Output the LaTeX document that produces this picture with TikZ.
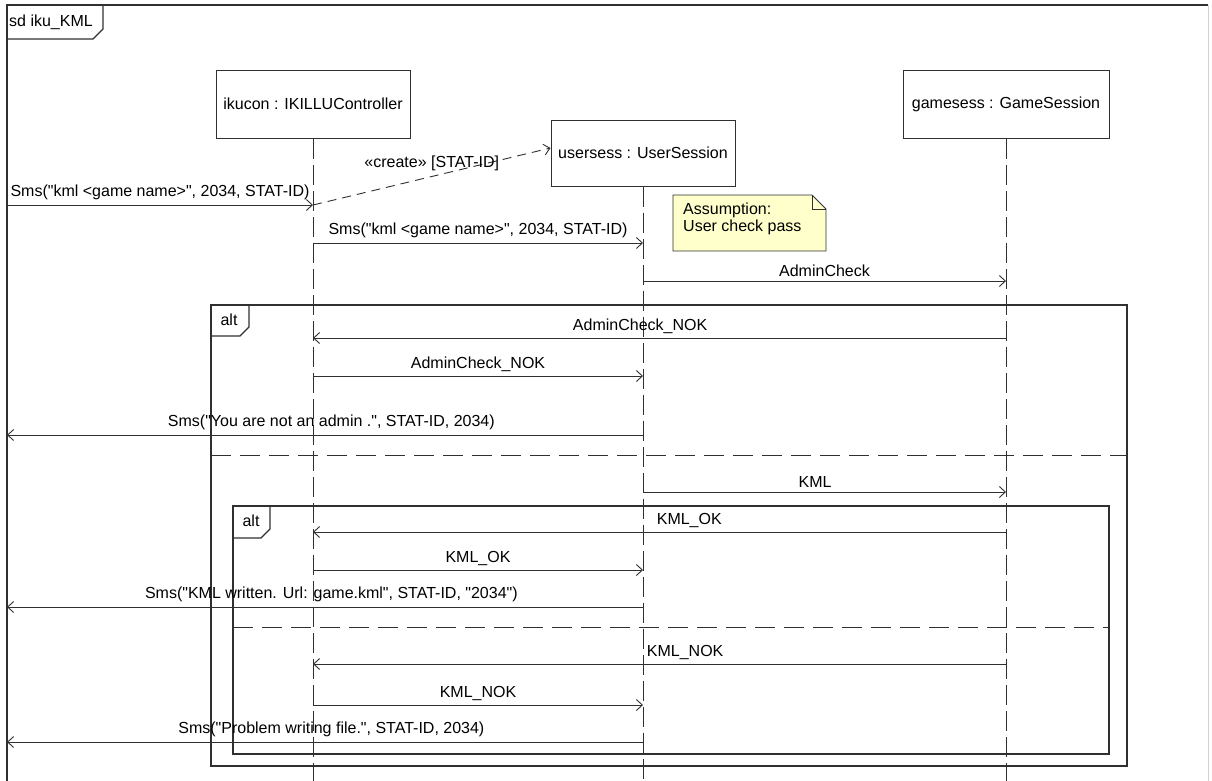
\documentclass[tikz,border=0pt]{standalone}
\usepackage{fontspec}
\setmainfont{Liberation Sans}
\usetikzlibrary{arrows.meta,positioning,calc}
\definecolor{linegray}{HTML}{303030}
\definecolor{noteyellow}{HTML}{FFFFCC}
\newcommand{\qq}{\textquotedbl}
\tikzset{
  lifebox/.style={draw=linegray,line width=1pt,fill=white,inner sep=0pt},
  lifeline/.style={draw=linegray,line width=0.9pt,dash pattern=on 20pt off 6pt},
  frm/.style={draw=linegray,line width=1.1pt},
  sep/.style={draw=linegray,line width=1pt,dash pattern=on 20pt off 9pt},
  msg/.style={draw=linegray,line width=0.9pt,->},
  createmsg/.style={msg,dash pattern=on 9pt off 6pt},
}

\begin{document}
\begin{tikzpicture}[x=1pt,y=-1pt,font={\fontsize{16pt}{18pt}\selectfont},>={Straight Barb[length=6pt,width=11pt]}]
\useasboundingbox (0,0) rectangle (1212,780);
\coordinate (gate) at (7,0);
\coordinate (bottom) at (0,782);
% sd frame
\draw[frm] (7,782) -- (7,5) -- (1208,5);
\draw[draw=gray!35,line width=0.8pt] (1208,5) -- (1208,782);
\draw[frm] (7,39) -- (93,39) -- (103,29) -- (103,5);
\node (sdlab) at (51,22) {sd iku\_KML};
% lifelines
\node[lifebox,minimum width=194pt,minimum height=68pt] (ikucon) at (313,104) {ikucon : IKILLUController};
\node[lifebox,minimum width=184pt,minimum height=66pt] (usersess) at (643,153) {usersess : UserSession};
\node[lifebox,minimum width=206pt,minimum height=68pt] (gamesess) at (1006,104) {gamesess : GameSession};
\foreach \nm in {ikucon,usersess,gamesess} \draw[lifeline] (\nm.south) -- (\nm.south |- bottom);
% note
\draw[frm,line width=0.9pt,fill=noteyellow] (673,195) -- (812,195) -- (826,209) -- (826,251) -- (673,251) -- cycle;
\draw[frm,line width=0.9pt] (812,195) -- (812,209) -- (826,209);
\node[anchor=north west,align=left,inner sep=0pt,font={\fontsize{16pt}{16.5pt}\selectfont}] (assume) at (683,203) {Assumption:\\User check pass};
% alt frames
\draw[frm] (211,305) rectangle (1127,766);
\draw[frm] (211,336) -- (240,336) -- (249,327) -- (249,305);
\node (altA) at (229,320) {alt};
\draw[sep] (211,455) -- (1127,455);
\draw[frm] (233,506) rectangle (1109,754);
\draw[frm] (233,538) -- (261,538) -- (270,529) -- (270,506);
\node (altB) at (251,521) {alt};
\draw[sep] (233,627) -- (1109,627);
% messages
\draw[msg] (gate |- 0,205) -- node[above=1pt] {Sms(\qq kml <game name>\qq, 2034, STAT-ID)} (ikucon |- 0,205);
\draw[createmsg] (ikucon |- 0,205) -- node[above=2pt] {«create» [STAT-ID]} ([yshift=5pt]usersess.west);
\foreach \ya/\src/\dst/\ps/\lab in {
  243/ikucon/usersess/0.5/{Sms(\qq kml <game name>\qq, 2034, STAT-ID)},
  281/usersess/gamesess/0.5/{AdminCheck},
  338/gamesess/ikucon/0.528/{AdminCheck\_NOK},
  376/ikucon/usersess/0.5/{AdminCheck\_NOK},
  435/usersess/gate/0.49/{Sms(\qq You are not an admin .\qq, STAT-ID, 2034)},
  492/usersess/gamesess/0.474/{KML},
  532/gamesess/ikucon/0.457/{KML\_OK},
  570/ikucon/usersess/0.5/{KML\_OK},
  607/usersess/gate/0.49/{Sms(\qq KML written. Url: game.kml\qq, STAT-ID, \qq 2034\qq)},
  664/gamesess/ikucon/0.463/{KML\_NOK},
  705/ikucon/usersess/0.5/{KML\_NOK},
  742/usersess/gate/0.49/{Sms(\qq Problem writing file.\qq, STAT-ID, 2034)}}
  \draw[msg] (\src |- 0,\ya) -- node[pos=\ps,above=1pt] {\lab} (\dst |- 0,\ya);
\end{tikzpicture}
\end{document}
